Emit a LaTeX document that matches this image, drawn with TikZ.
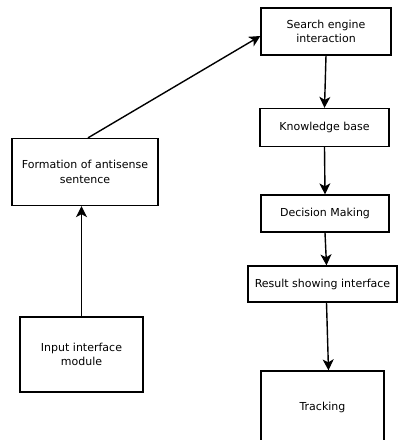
\documentclass[tikz,border=0pt]{standalone}
\usepackage{fontspec}
\setmainfont{DejaVu Sans}
\usetikzlibrary{arrows.meta}
\begin{document}
\begin{tikzpicture}[x=1pt,y=-1pt,
  box/.style={draw, line width=1.3pt, inner sep=0pt, align=center,
    font=\fontsize{11}{14.3}\selectfont},
  link/.style={line width=1.4pt, -{Stealth[length=11pt,width=11pt,inset=3pt]}}]
\fill[white] (0,0) rectangle (398,440);
\useasboundingbox (0,0) rectangle (398,440);
\node[box, minimum width=130pt, minimum height=47pt] (search) at (326,31.5) {Search engine\\interaction};
\node[box, minimum width=129pt, minimum height=38pt] (know) at (324.5,127.5) {Knowledge base};
\node[box, minimum width=128pt, minimum height=37pt] (dec) at (325,213.5) {Decision Making};
\node[box, minimum width=149pt, minimum height=36pt] (res) at (322.5,284) {Result showing interface};
\node[box, minimum width=123pt, minimum height=72pt] (track) at (322.5,407) {Tracking};
\node[box, minimum width=146pt, minimum height=67pt] (form) at (85,172) {Formation of antisense\\sentence};
\node[box, minimum width=123pt, minimum height=75pt] (input) at (81.5,354.5) {Input interface\\module};
\draw[link] (input.north) -- (input.north |- form.south);
\draw[link] ([xshift=3pt]form.north) -- ([yshift=-4.5pt]search.west);
\draw[link] (search.south) -- (know.north);
\draw[link] (know.south) -- (dec.north);
\draw[link] (dec.south) -- ([xshift=4pt]res.north);
\draw[link] ([xshift=4pt]res.south) -- ([xshift=6pt]track.north);
\end{tikzpicture}
\end{document}
